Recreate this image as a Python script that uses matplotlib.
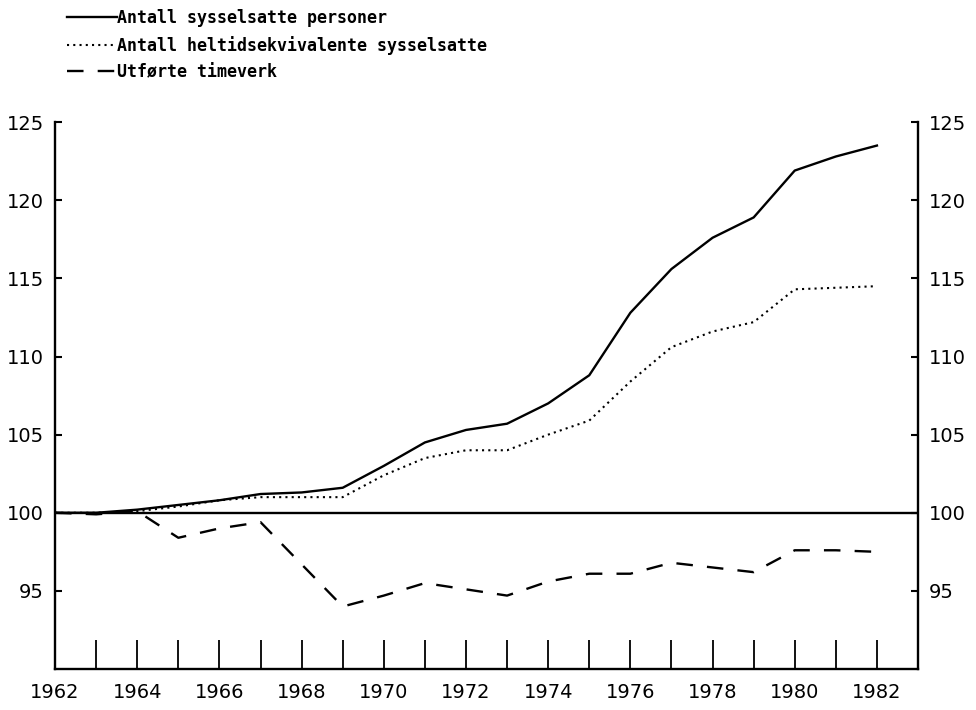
import matplotlib
matplotlib.use("Agg")
import matplotlib.pyplot as plt

years = list(range(1962, 1983))

# Antall sysselsatte personer
persons = [100.0, 100.0, 100.2, 100.5, 100.8, 101.2, 101.3, 101.6, 103.0, 104.5, 105.3,
           105.7, 107.0, 108.8, 112.8, 115.6, 117.6, 118.9, 121.9, 122.8, 123.5]
# Antall heltidsekvivalente sysselsatte
fte = [100.0, 100.0, 100.1, 100.4, 100.8, 101.0, 101.0, 101.0, 102.4, 103.5, 104.0,
       104.0, 105.0, 105.9, 108.4, 110.6, 111.6, 112.2, 114.3, 114.4, 114.5]
# Utførte timeverk
hours = [100.0, 99.9, 100.1, 98.4, 99.0, 99.4, 96.7, 94.0, 94.7, 95.5, 95.1,
         94.7, 95.6, 96.1, 96.1, 96.8, 96.5, 96.2, 97.6, 97.6, 97.5]

labels = ["Antall sysselsatte personer",
          "Antall heltidsekvivalente sysselsatte",
          "Utførte timeverk"]

fig = plt.figure(figsize=(9.76, 7.10), dpi=100)
ax = fig.add_axes([0.0564, 0.0577, 0.8842, 0.7703])

l1, = ax.plot(years, persons, color="black", lw=1.7, ls="-")
l2, = ax.plot(years, fte, color="black", lw=1.5, ls=(0, (1, 2)))
l3, = ax.plot(years, hours, color="black", lw=1.7, ls=(0, (7, 6)))
ax.axhline(100, color="black", lw=1.7)

ax.set_xlim(1962, 1983)
ax.set_ylim(90, 125)

ax.spines["top"].set_visible(False)
for s in ("left", "right", "bottom"):
    ax.spines[s].set_linewidth(1.7)

ax.set_xticks(years)
ax.set_xticklabels([str(y) if y % 2 == 0 else "" for y in years])
ax.tick_params(axis="x", direction="in", length=21, width=1.3, labelsize=14, pad=10)

ax.set_yticks([95, 100, 105, 110, 115, 120, 125])
ax.tick_params(axis="y", direction="in", length=5, width=1.5, labelsize=14,
               right=True, labelright=True, pad=8)

fig.legend([l1, l2, l3], labels, loc="upper left", bbox_to_anchor=(0.053, 1.008),
           frameon=False, handlelength=3.0, handletextpad=0.0, labelspacing=0.5,
           prop={"family": "DejaVu Sans Mono", "size": 12, "weight": "bold"})

fig.savefig("out.png", dpi=100)
